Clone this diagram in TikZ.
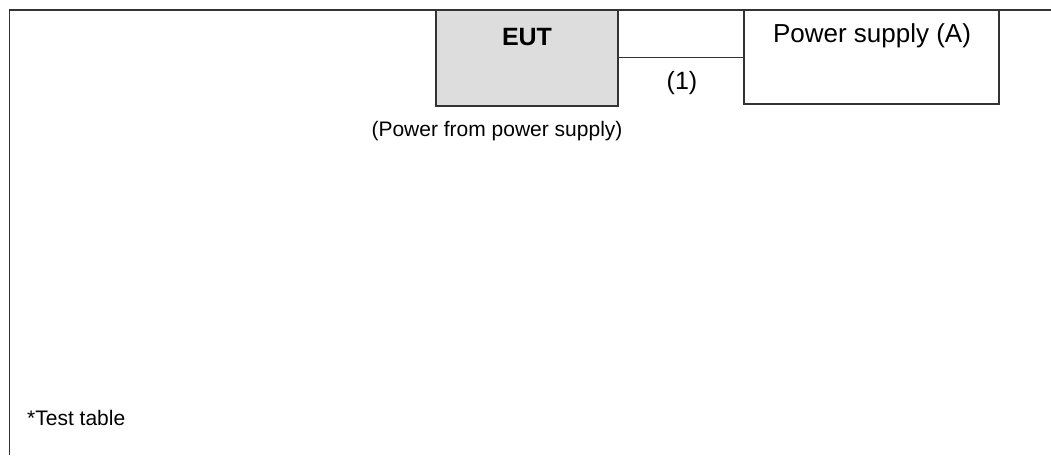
\documentclass[tikz,border=0pt]{standalone}
\usepackage{fontspec}
\setmainfont{Liberation Sans}
\definecolor{linegray}{HTML}{333333}
\definecolor{eutgray}{HTML}{DDDDDD}
\begin{document}
\begin{tikzpicture}[x=1pt,y=-1pt,
  box/.style={draw=linegray,line width=1.5pt,rectangle,inner sep=0pt},
  lbl/.style={inner sep=0pt,anchor=center}]
\useasboundingbox (0,0) rectangle (1051,455);
% frame
\coordinate (ftr) at (1051,10);
\coordinate (ftl) at (9.5,10);
\coordinate (fbl) at (9.5,455);
\draw[linegray,line width=1.5pt] (fbl) -- (ftl) -- (ftr);
% EUT box
\node[box,fill=eutgray,minimum width=182pt,minimum height=96pt] (eut) at (527,58) {};
\node[lbl,font=\fontsize{25}{28}\selectfont\bfseries] (eutt) at (527,37) {EUT};
% power supply box
\node[box,minimum width=255pt,minimum height=94pt] (ps) at (871.5,57) {};
\node[lbl,font=\fontsize{26}{29}\selectfont] (pst) at (872,36) {Power supply (A)};
% connector
\draw[linegray,line width=1pt] (eut.east |- 0,57) -- (ps.west |- 0,57);
\node[lbl,font=\fontsize{25}{28}\selectfont] (one) at (682,83) {(1)};
\node[lbl,font=\fontsize{21}{24}\selectfont] (pfp) at (497,131) {(Power from power supply)};
\node[lbl,anchor=west,font=\fontsize{21}{24}\selectfont] (tt) at (27,418) {*Test table};
\end{tikzpicture}
\end{document}
